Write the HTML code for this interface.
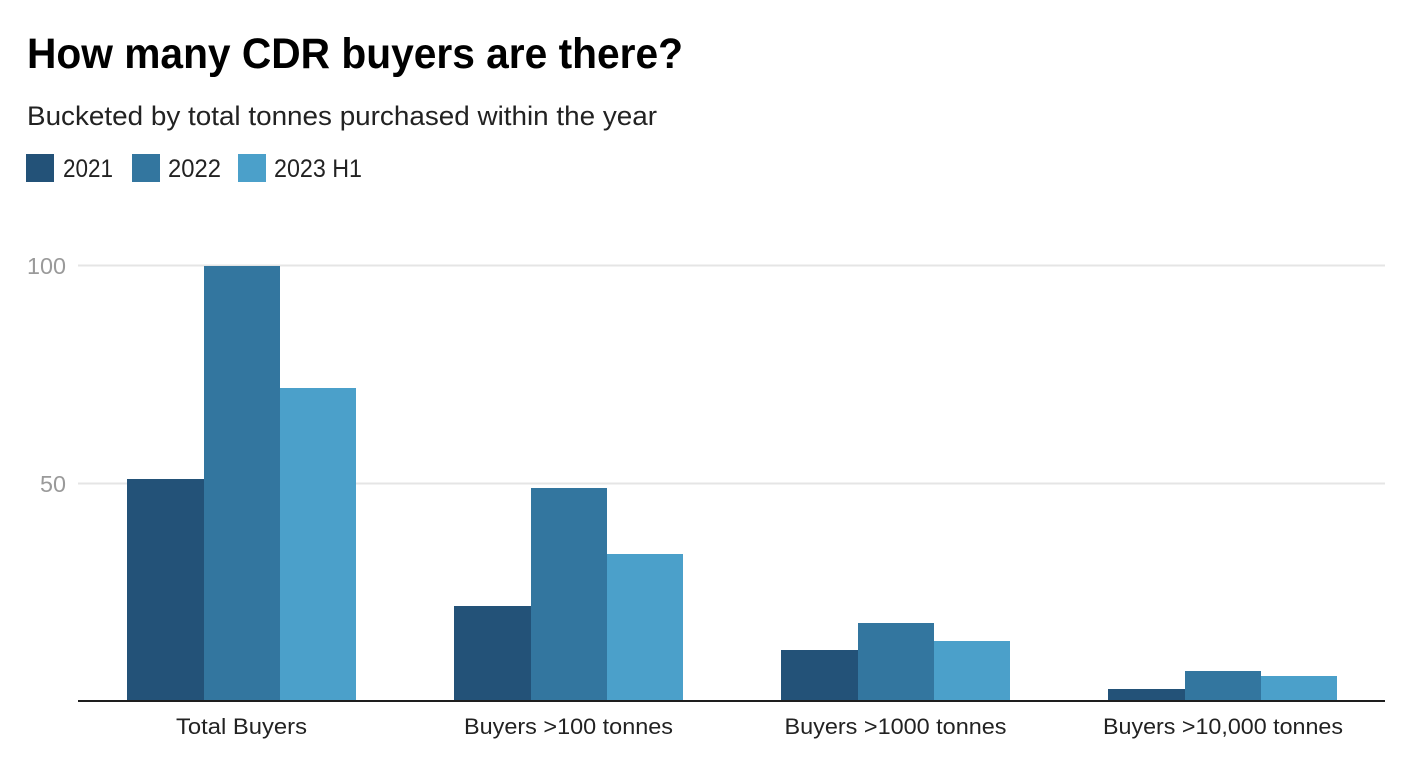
<!DOCTYPE html>
<html>
<head>
<meta charset="utf-8">
<style>
  html, body { margin: 0; padding: 0; background: #ffffff; }
  body { width: 1418px; height: 772px; overflow: hidden; }
  svg { display: block; }
  text { font-family: "Liberation Sans", "DejaVu Sans", sans-serif; }
</style>
</head>
<body>
<svg width="1418" height="772" viewBox="0 0 1418 772" xmlns="http://www.w3.org/2000/svg">
  <rect x="0" y="0" width="1418" height="772" fill="#ffffff"/>

  <!-- Title -->
  <text x="27" y="68" font-size="43" font-weight="bold" fill="#000000" textLength="656" lengthAdjust="spacingAndGlyphs">How many CDR buyers are there?</text>
  <!-- Subtitle -->
  <text x="27" y="125" font-size="27" fill="#222222" textLength="630" lengthAdjust="spacingAndGlyphs">Bucketed by total tonnes purchased within the year</text>

  <!-- Legend -->
  <rect x="26" y="154" width="28" height="28" fill="#235278"/>
  <text x="63" y="177" font-size="25" fill="#222222" textLength="50" lengthAdjust="spacingAndGlyphs">2021</text>
  <rect x="132" y="154" width="28" height="28" fill="#33769f"/>
  <text x="168" y="177" font-size="25" fill="#222222" textLength="53" lengthAdjust="spacingAndGlyphs">2022</text>
  <rect x="238" y="154" width="28" height="28" fill="#4ba0ca"/>
  <text x="274" y="177" font-size="25" fill="#222222" textLength="88" lengthAdjust="spacingAndGlyphs">2023 H1</text>

  <!-- Gridlines -->
  <line x1="78" y1="265.5" x2="1385" y2="265.5" stroke="#e5e5e5" stroke-width="2"/>
  <line x1="78" y1="483.5" x2="1385" y2="483.5" stroke="#e5e5e5" stroke-width="2"/>

  <!-- Y labels -->
  <text x="66" y="274" font-size="23" fill="#9a9a9a" text-anchor="end" textLength="39" lengthAdjust="spacingAndGlyphs">100</text>
  <text x="66" y="492" font-size="23" fill="#9a9a9a" text-anchor="end" textLength="26" lengthAdjust="spacingAndGlyphs">50</text>

  <!-- Bars group 1 -->
  <rect x="127" y="479" width="77" height="222" fill="#235278"/>
  <rect x="204" y="266" width="76" height="435" fill="#33769f"/>
  <rect x="280" y="388" width="76" height="313" fill="#4ba0ca"/>
  <!-- Bars group 2 -->
  <rect x="454" y="606" width="77" height="95" fill="#235278"/>
  <rect x="531" y="488" width="76" height="213" fill="#33769f"/>
  <rect x="607" y="554" width="76" height="147" fill="#4ba0ca"/>
  <!-- Bars group 3 -->
  <rect x="781" y="650" width="77" height="51" fill="#235278"/>
  <rect x="858" y="623" width="76" height="78" fill="#33769f"/>
  <rect x="934" y="641" width="76" height="60" fill="#4ba0ca"/>
  <!-- Bars group 4 -->
  <rect x="1108" y="689" width="77" height="12" fill="#235278"/>
  <rect x="1185" y="671" width="76" height="30" fill="#33769f"/>
  <rect x="1261" y="676" width="76" height="25" fill="#4ba0ca"/>

  <!-- Baseline -->
  <line x1="78" y1="701" x2="1385" y2="701" stroke="#1e1e1e" stroke-width="2"/>

  <!-- X labels -->
  <text x="241.5" y="734" font-size="22" fill="#222222" text-anchor="middle" textLength="131" lengthAdjust="spacingAndGlyphs">Total Buyers</text>
  <text x="568.5" y="734" font-size="22" fill="#222222" text-anchor="middle" textLength="209" lengthAdjust="spacingAndGlyphs">Buyers &gt;100 tonnes</text>
  <text x="895.5" y="734" font-size="22" fill="#222222" text-anchor="middle" textLength="222" lengthAdjust="spacingAndGlyphs">Buyers &gt;1000 tonnes</text>
  <text x="1223" y="734" font-size="22" fill="#222222" text-anchor="middle" textLength="240" lengthAdjust="spacingAndGlyphs">Buyers &gt;10,000 tonnes</text>
</svg>
</body>
</html>
